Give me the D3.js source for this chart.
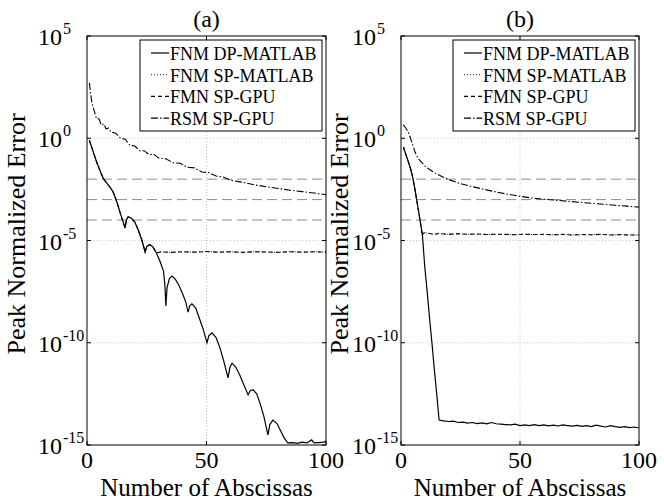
<!DOCTYPE html>
<html>
<head>
<meta charset="utf-8">
<script src="https://cdn.jsdelivr.net/npm/d3@7"></script>
<style>
  html, body { margin: 0; padding: 0; background: #fff; }
  svg { display: block; }
  text { font-family: "Liberation Serif", "Times New Roman", serif; fill: #000; }
</style>
</head>
<body>
<svg id="chart" width="664" height="501"></svg>
<script>
// ---------------- DATA (values are log10 of the peak normalized error) ----------------
const panelTitles = ["(a)", "(b)"];
const legendLabels = ["FNM DP-MATLAB", "FNM SP-MATLAB", "FMN SP-GPU", "RSM SP-GPU"];
const xTicks = [0, 50, 100];
const yTickExps = [5, 0, -5, -10, -15];
const refLineExps = [-2, -3, -4];

// Panel (a)
const dpA = [[1,-0.1],[2,-0.45],[3,-0.8],[4,-1.15],[5,-1.45],[6,-1.75],[7,-2.0],[8,-2.15],[9,-2.3],[10,-2.45],
  [11,-2.65],[12,-2.95],[13,-3.3],[14,-3.7],[15,-4.05],[15.9,-4.39],[16.5,-4.0],[17.2,-3.85],[18.5,-3.9],[20,-4.1],
  [21.5,-4.5],[23,-5.0],[24.3,-5.56],[25,-5.3],[26.2,-5.2],[27.5,-5.3],[29,-5.6],[30.5,-6.0],[32,-6.5],[32.6,-7.2],
  [33,-8.2],[33.5,-7.3],[34.5,-6.85],[35.6,-6.74],[37,-6.9],[38.5,-7.2],[40,-7.6],[41.3,-8.0],[42.3,-8.5],[43,-8.2],
  [43.9,-8.1],[45.5,-8.3],[47,-8.8],[48.5,-9.3],[50.2,-10.0],[51,-9.65],[52.3,-9.52],[54,-9.75],[55.5,-10.2],[57,-10.8],
  [59,-11.72],[59.8,-11.2],[60.7,-11.0],[62.3,-11.2],[64,-11.6],[65.8,-12.1],[67.4,-12.55],[68.3,-12.35],[69.5,-12.3],[71,-12.5],
  [72.5,-13.0],[74,-13.6],[75.7,-14.5],[76.5,-14.0],[77.8,-13.78],[79.5,-13.95],[81,-14.3],[82.5,-14.65],[84,-14.9],[86,-14.88],
  [88,-14.92],[90,-14.86],[92,-14.9],[94,-14.75],[95,-14.9],[97,-14.88],[99,-14.86],[100,-14.8]];
const spPlateauA = [[30,-5.58],[31,-5.55],[35,-5.58],[40,-5.55],[45,-5.57],[50,-5.54],[55,-5.57],[60,-5.55],
  [65,-5.58],[70,-5.55],[75,-5.56],[80,-5.58],[85,-5.55],[90,-5.57],[95,-5.55],[100,-5.57]];
const rsmA = [[1,2.7],[2,1.75],[3,1.35],[4,0.95],[5,0.95],[6,0.65],[7,0.7],[8,0.45],[9,0.5],[10,0.3],
  [12,0.25],[14,0.0],[16,-0.05],[18,-0.35],[20,-0.38],[22,-0.6],[24,-0.62],[26,-0.8],[28,-0.78],[30,-0.97],
  [33,-1.0],[36,-1.2],[39,-1.22],[42,-1.42],[45,-1.45],[48,-1.65],[51,-1.68],[54,-1.85],[57,-1.9],[60,-2.05],
  [65,-2.15],[70,-2.28],[75,-2.37],[80,-2.46],[85,-2.54],[90,-2.61],[95,-2.68],[100,-2.76]];

// Panel (b)
const dpB = [[1,-0.43],[2,-0.78],[3,-1.12],[4,-1.48],[5,-1.95],[6,-2.6],[7,-3.3],[8,-4.0],[9,-4.75],[10,-6.3],
  [11,-7.5],[12,-8.8],[13,-10.0],[14,-11.3],[15,-12.5],[16,-13.78],[18,-13.82],[20,-13.85],[22,-13.83],[24,-13.9],
  [26,-13.88],[28,-13.93],[30,-13.9],[32,-13.95],[34,-13.92],[36,-13.97],[38,-13.9],[40,-13.96],[42,-13.98],[44,-14.0],
  [46,-14.02],[48,-13.98],[50,-14.05],[52,-14.02],[54,-14.05],[56,-14.0],[58,-14.05],[60,-14.02],[62,-14.06],[64,-14.03],
  [66,-14.07],[68,-14.02],[70,-14.05],[72,-14.08],[74,-14.04],[76,-14.09],[78,-14.05],[80,-14.1],[82,-14.03],[84,-14.08],
  [86,-14.12],[88,-14.05],[90,-14.1],[92,-14.14],[94,-14.1],[96,-14.15],[98,-14.12],[100,-14.17]];
const spPlateauB = [[9.3,-4.65],[10,-4.62],[12,-4.66],[14,-4.7],[16,-4.65],[18,-4.68],[20,-4.7],[24,-4.67],
  [28,-4.7],[32,-4.68],[36,-4.71],[40,-4.69],[44,-4.7],[48,-4.72],[52,-4.69],[56,-4.71],[60,-4.7],[64,-4.72],
  [68,-4.7],[72,-4.73],[76,-4.71],[80,-4.72],[84,-4.7],[88,-4.73],[92,-4.71],[96,-4.73],[100,-4.73]];
const rsmB = [[1,0.65],[2,0.5],[3,0.3],[4,0.0],[5,-0.35],[6,-0.7],[7,-0.95],[8,-1.1],[10,-1.35],[12,-1.53],
  [15,-1.75],[18,-1.92],[21,-2.06],[25,-2.22],[30,-2.37],[35,-2.5],[40,-2.63],[45,-2.74],[50,-2.84],[55,-2.92],
  [60,-2.98],[65,-3.03],[70,-3.08],[75,-3.13],[80,-3.18],[85,-3.23],[90,-3.28],[95,-3.32],[100,-3.37]];

// ---------------- DRAW ----------------
const svg = d3.select("#chart");
const plotTop = 36, plotBottom = 445;
const styles = [
  { dash: null, width: 1.2, color: "#000" },
  { dash: "1,2", width: 1, color: "#222" },
  { dash: "4,3", width: 1.1, color: "#000" },
  { dash: "7,2,1.5,2", width: 1.1, color: "#000" }
];

const panels = [
  { x0: 87, x1: 326, title: panelTitles[0], dp: dpA,
    sp: dpA.filter(d => d[0] < 30).concat(spPlateauA), rsm: rsmA, ylabX: 25 },
  { x0: 401, x1: 639, title: panelTitles[1], dp: dpB,
    sp: dpB.filter(d => d[0] <= 9).concat(spPlateauB), rsm: rsmB, ylabX: 348 }
];

panels.forEach((p, pi) => {
  const x = d3.scaleLinear().domain([0, 100]).range([p.x0, p.x1]);
  const y = d3.scaleLog().domain([1e-15, 1e5]).range([plotBottom, plotTop]);
  const g = svg.append("g");

  const clipId = "clip" + pi;
  svg.append("clipPath").attr("id", clipId).append("rect")
    .attr("x", p.x0).attr("y", plotTop).attr("width", p.x1 - p.x0).attr("height", plotBottom - plotTop);

  // grid
  const gridG = g.append("g").attr("stroke", "#bdbdbd").attr("stroke-width", 0.8).attr("stroke-dasharray", "1,2");
  gridG.selectAll("line.gx").data(xTicks.slice(1, -1)).join("line")
    .attr("x1", d => x(d)).attr("x2", d => x(d)).attr("y1", plotTop).attr("y2", plotBottom);
  gridG.selectAll("line.gy").data(yTickExps.slice(1, -1)).join("line")
    .attr("x1", p.x0).attr("x2", p.x1).attr("y1", d => y(Math.pow(10, d))).attr("y2", d => y(Math.pow(10, d)));

  // reference lines
  g.append("g").selectAll("line").data(refLineExps).join("line")
    .attr("x1", p.x0).attr("x2", p.x1)
    .attr("y1", d => y(Math.pow(10, d))).attr("y2", d => y(Math.pow(10, d)))
    .attr("stroke", "#8c8c8c").attr("stroke-width", 1).attr("stroke-dasharray", "10,5");

  // series
  const line = d3.line().x(d => x(d[0])).y(d => y(Math.pow(10, d[1])));
  const series = [p.dp, p.sp, p.sp, p.rsm];
  const lg = g.append("g").attr("clip-path", `url(#${clipId})`);
  [3, 2, 1, 0].forEach(i => {
    lg.append("path").datum(series[i]).attr("d", line)
      .attr("fill", "none").attr("stroke", styles[i].color)
      .attr("stroke-width", styles[i].width)
      .attr("stroke-dasharray", styles[i].dash);
  });

  // frame
  g.append("rect").attr("x", p.x0).attr("y", plotTop).attr("width", p.x1 - p.x0).attr("height", plotBottom - plotTop)
    .attr("fill", "none").attr("stroke", "#000").attr("stroke-width", 1);

  // ticks
  const tk = g.append("g").attr("stroke", "#000").attr("stroke-width", 1);
  yTickExps.forEach(e => {
    const yy = y(Math.pow(10, e));
    tk.append("line").attr("x1", p.x0).attr("x2", p.x0 + 4).attr("y1", yy).attr("y2", yy);
    tk.append("line").attr("x1", p.x1).attr("x2", p.x1 - 4).attr("y1", yy).attr("y2", yy);
    g.append("text").attr("x", p.x0 - 25).attr("y", yy + 9).attr("text-anchor", "end")
      .style("font-size", "24px").text("10");
    g.append("text").attr("x", p.x0 - 24).attr("y", yy - 2)
      .style("font-size", "16px").text(String(e));
  });
  xTicks.forEach(t => {
    tk.append("line").attr("x1", x(t)).attr("x2", x(t)).attr("y1", plotBottom).attr("y2", plotBottom - 4);
    tk.append("line").attr("x1", x(t)).attr("x2", x(t)).attr("y1", plotTop).attr("y2", plotTop + 4);
    g.append("text").attr("x", x(t)).attr("y", 468).attr("text-anchor", "middle")
      .style("font-size", "24px").text(t);
  });

  // labels
  g.append("text").attr("x", (p.x0 + p.x1) / 2).attr("y", 27).attr("text-anchor", "middle")
    .style("font-size", "24px").text(p.title);
  g.append("text").attr("x", (p.x0 + p.x1) / 2).attr("y", 496).attr("text-anchor", "middle")
    .style("font-size", "25px").text("Number of Abscissas");
  g.append("text").attr("transform", `translate(${p.ylabX},234) rotate(-90)`).attr("text-anchor", "middle")
    .style("font-size", "26px").text("Peak Normalized Error");

  // legend
  const bx = p.x1 - 186, by = 40, bw = 182, bh = 91;
  const leg = g.append("g");
  leg.append("rect").attr("x", bx).attr("y", by).attr("width", bw).attr("height", bh)
    .attr("fill", "#fff").attr("stroke", "#000").attr("stroke-width", 1);
  legendLabels.forEach((lab, i) => {
    const base = 60 + i * 21.7;
    leg.append("line").attr("x1", bx + 11).attr("x2", bx + 29).attr("y1", base - 7).attr("y2", base - 7)
      .attr("stroke", styles[i].color).attr("stroke-width", styles[i].width)
      .attr("stroke-dasharray", styles[i].dash);
    leg.append("text").attr("x", bx + 30).attr("y", base).style("font-size", "18px").text(lab);
  });
});
</script>
</body>
</html>
